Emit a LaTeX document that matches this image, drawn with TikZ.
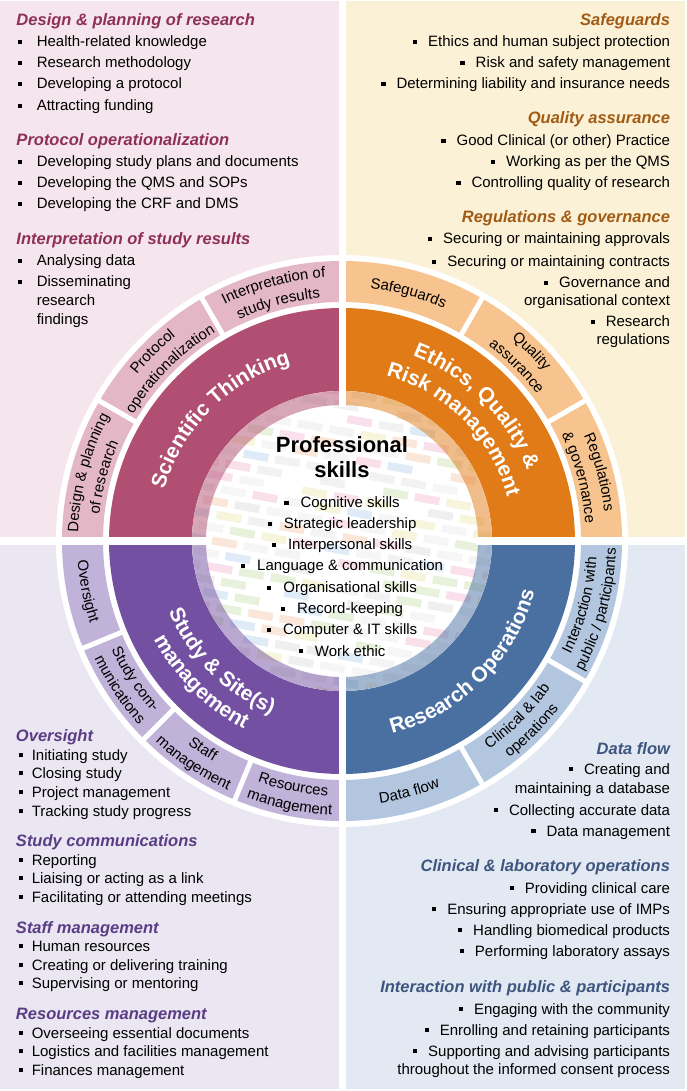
\documentclass[tikz,border=0pt]{standalone}
\usepackage{fontspec}
\setmainfont{Liberation Sans}
\usetikzlibrary{decorations.text}

\definecolor{tlbg}{HTML}{F4E6EC}
\definecolor{tlseg}{HTML}{E4B7C7}
\definecolor{tlband}{HTML}{B04F71}
\definecolor{tlhd}{HTML}{8E2F59}
\definecolor{trbg}{HTML}{FBF1D7}
\definecolor{trseg}{HTML}{F7C38E}
\definecolor{trband}{HTML}{E07B17}
\definecolor{trhd}{HTML}{A25B14}
\definecolor{blbg}{HTML}{EAE6F2}
\definecolor{blseg}{HTML}{C0B2D8}
\definecolor{blband}{HTML}{7350A1}
\definecolor{blhd}{HTML}{5A3D84}
\definecolor{brbg}{HTML}{E3E9F2}
\definecolor{brseg}{HTML}{B3C6DF}
\definecolor{brband}{HTML}{4A70A2}
\definecolor{brhd}{HTML}{3D557F}
\definecolor{tile0}{HTML}{DADADA}
\definecolor{tile1}{HTML}{E2E2E2}
\definecolor{tile2}{HTML}{D4D4D4}
\definecolor{tile3}{HTML}{FFFFFF}
\definecolor{tile4}{HTML}{E8E8E8}
\definecolor{tile5}{HTML}{F3A9C4}
\definecolor{tile6}{HTML}{BFD99A}
\definecolor{tile7}{HTML}{A6C8E6}
\definecolor{tile8}{HTML}{F5BC95}
\definecolor{tile9}{HTML}{E9E39A}

\newcommand\sqb{\raisebox{2.6pt}{\rule{4.3pt}{4.3pt}}}
\newcommand\itf{\fontsize{15}{18}\selectfont}
\newcommand\hdf{\fontsize{16.5}{20}\selectfont\bfseries\itshape}
\newcommand\bandf{\fontsize{21}{25}\selectfont\bfseries}
\newcommand\segf{\fontsize{15}{18}\selectfont}
\newcommand\annsec[5]{\fill[#1] (#2:#4) arc[start angle=#2,end angle=#3,radius=#4] -- (#3:#5) arc[start angle=#3,end angle=#2,radius=#5] -- cycle;}
\newcommand\arctext[5]{\path[decorate,decoration={text along path,text align=center,text color=#5,text={#4}}] (#1:#3) arc[start angle=#1,end angle=#2,radius=#3];}

\tikzset{
  itL/.style={inner sep=0pt,outer sep=0pt,anchor=base west,font=\itf,text=black},
  itR/.style={inner sep=0pt,outer sep=0pt,anchor=base east,font=\itf,text=black},
  itC/.style={inner sep=0pt,outer sep=0pt,anchor=base,font=\itf,text=black},
  hdL/.style={inner sep=0pt,outer sep=0pt,anchor=base west,font=\hdf},
  hdR/.style={inner sep=0pt,outer sep=0pt,anchor=base east,font=\hdf},
}

\begin{document}
\begin{tikzpicture}[x=1pt,y=1pt]
\useasboundingbox (-342,-550) rectangle (344,541);
\fill[white] (-342,-550) rectangle (344,541);
% panels
\fill[tlbg] (-342,539.5) rectangle (-3.5,4);
\fill[trbg] (3.5,539.5) rectangle (342.5,4);
\fill[blbg] (-342,-4) rectangle (-3.5,-547.5);
\fill[brbg] (3.5,-4) rectangle (343,-547.5);
% white ring
\fill[white] (0,0) circle (286);
% outer segment ring
\annsec{tlseg}{180}{90}{280}{239}
\annsec{trseg}{90}{0}{280}{239}
\annsec{blseg}{180}{270}{280}{239}
\annsec{brseg}{270}{360}{280}{239}
% main bands
\annsec{tlband}{180}{90}{233}{150}
\annsec{trband}{90}{0}{233}{150}
\annsec{blband}{180}{270}{233}{150}
\annsec{brband}{270}{360}{233}{150}
% centre disc with faint tiles
\fill[white] (0,0) circle (150);
\begin{scope}
  \clip (0,0) circle (150);
  \pgfmathsetseed{42}
  \foreach \r in {-12,...,12}{
    \foreach \c in {-7,...,7}{
      \pgfmathrandominteger{\k}{0}{9}
      \pgfmathsetmacro{\xx}{\c*32+mod(abs(\r),2)*16}
      \fill[tile\k,opacity=0.35,rotate=-10] (\xx,\r*13) rectangle ++(25,8);
    }
  }
\end{scope}
% translucent inner ring
\annsec{tlband,opacity=0.5}{180}{90}{150}{136}
\annsec{trband,opacity=0.5}{90}{0}{150}{136}
\annsec{blband,opacity=0.5}{180}{270}{150}{136}
\annsec{brband,opacity=0.5}{270}{360}{150}{136}
% white cross gaps
\fill[white] (-3.5,134) rectangle (3.5,290);
\fill[white] (-3.5,-134) rectangle (3.5,-290);
\fill[white] (134,-4) rectangle (290,4);
\fill[white] (-134,-4) rectangle (-290,4);
% segment dividers
\foreach \a in {150,120,60,30,202.5,225,247.5,-30,-60}
  \draw[white,line width=5] (\a:236) -- (\a:284);

% band titles
\arctext{180}{90}{185}{|\bandf|Scientific Thinking}{white}
\arctext{90}{0}{198}{|\bandf|Ethics, Quality {\&}}{white}
\arctext{90}{0}{171}{|\bandf|Risk management}{white}
\arctext{180}{270}{187}{|\bandf|Study {\&} Site(s)}{white}
\arctext{180}{270}{212}{|\bandf|management}{white}
\arctext{270}{360}{199}{|\bandf|Research Operations}{white}

% segment labels, top (clockwise)
\arctext{180}{150}{264}{|\segf|Design {\&} planning}{black}
\arctext{180}{150}{244}{|\segf|of research}{black}
\arctext{150}{120}{264}{|\segf|Protocol}{black}
\arctext{150}{120}{244}{|\segf|operationalization}{black}
\arctext{120}{90}{264}{|\segf|Interpretation of}{black}
\arctext{120}{90}{244}{|\segf|study results}{black}
\arctext{90}{60}{254}{|\segf|Safeguards}{black}
\arctext{60}{30}{264}{|\segf|Quality}{black}
\arctext{60}{30}{244}{|\segf|assurance}{black}
\arctext{30}{0}{264}{|\segf|Regulations}{black}
\arctext{30}{0}{244}{|\segf|{\&} governance}{black}
% segment labels, bottom (counter-clockwise)
\arctext{180}{202.5}{265}{|\segf|Oversight}{black}
\arctext{202.5}{225}{255}{|\segf|Study com-}{black}
\arctext{202.5}{225}{274}{|\segf|munications}{black}
\arctext{225}{247.5}{255}{|\segf|Staff}{black}
\arctext{225}{247.5}{274}{|\segf|management}{black}
\arctext{247.5}{270}{255}{|\segf|Resources}{black}
\arctext{247.5}{270}{274}{|\segf|management}{black}
\arctext{270}{300}{265}{|\segf|Data flow}{black}
\arctext{300}{330}{255}{|\segf|Clinical {\&} lab}{black}
\arctext{300}{330}{274}{|\segf|operations}{black}
\arctext{330}{360}{255}{|\segf|Interaction with}{black}
\arctext{330}{360}{274}{|\segf|public / participants}{black}

% centre
\node[inner sep=0pt,anchor=base,font=\fontsize{22}{26}\selectfont\bfseries] (ps1) at (0,88) {Professional};
\node[inner sep=0pt,anchor=base,font=\fontsize{22}{26}\selectfont\bfseries] (ps2) at (0,63) {skills};
\node[itC] (c1) at (0,33) {\sqb\hspace{12pt}Cognitive skills};
\node[itC] (c2) at (0,12) {\sqb\hspace{12pt}Strategic leadership};
\node[itC] (c3) at (0,-9) {\sqb\hspace{12pt}Interpersonal skills};
\node[itC] (c4) at (0,-30) {\sqb\hspace{12pt}Language \& communication};
\node[itC] (c5) at (0,-52) {\sqb\hspace{12pt}Organisational skills};
\node[itC] (c6) at (0,-73) {\sqb\hspace{12pt}Record-keeping};
\node[itC] (c7) at (0,-94) {\sqb\hspace{12pt}Computer \& IT skills};
\node[itC] (c8) at (0,-115) {\sqb\hspace{12pt}Work ethic};

% top-left panel
\node[hdL,text=tlhd] (tlh1) at (-325.5,515) {Design \& planning of research};
\node[itL] (tl1) at (-324,494) {\sqb\hspace{14.5pt}Health-related knowledge};
\node[itL] (tl2) at (-324,473) {\sqb\hspace{14.5pt}Research methodology};
\node[itL] (tl3) at (-324,452) {\sqb\hspace{14.5pt}Developing a protocol};
\node[itL] (tl4) at (-324,430.5) {\sqb\hspace{14.5pt}Attracting funding};
\node[hdL,text=tlhd] (tlh2) at (-325.5,395) {Protocol operationalization};
\node[itL] (tl5) at (-324,374) {\sqb\hspace{14.5pt}Developing study plans and documents};
\node[itL] (tl6) at (-324,353) {\sqb\hspace{14.5pt}Developing the QMS and SOPs};
\node[itL] (tl7) at (-324,332) {\sqb\hspace{14.5pt}Developing the CRF and DMS};
\node[hdL,text=tlhd] (tlh3) at (-325.5,296) {Interpretation of study results};
\node[itL] (tl8) at (-324,275) {\sqb\hspace{14.5pt}Analysing data};
\node[itL] (tl9) at (-324,254) {\sqb\hspace{14.5pt}Disseminating};
\node[itL] (tl10) at (-305.2,235) {research};
\node[itL] (tl11) at (-305.2,216) {findings};

% top-right panel
\node[hdR,text=trhd] (trh1) at (328,515) {Safeguards};
\node[itR] (tr1) at (328,494) {\sqb\hspace{11pt}Ethics and human subject protection};
\node[itR] (tr2) at (328,473) {\sqb\hspace{11pt}Risk and safety management};
\node[itR] (tr3) at (328,452) {\sqb\hspace{11pt}Determining liability and insurance needs};
\node[hdR,text=trhd] (trh2) at (328,417) {Quality assurance};
\node[itR] (tr4) at (328,395) {\sqb\hspace{11pt}Good Clinical (or other) Practice};
\node[itR] (tr5) at (328,374) {\sqb\hspace{11pt}Working as per the QMS};
\node[itR] (tr6) at (328,353) {\sqb\hspace{11pt}Controlling quality of research};
\node[hdR,text=trhd] (trh3) at (328,318) {Regulations \& governance};
\node[itR] (tr7) at (328,297) {\sqb\hspace{11pt}Securing or maintaining approvals};
\node[itR] (tr8) at (328,274) {\sqb\hspace{11pt}Securing or maintaining contracts};
\node[itR] (tr9) at (328,253) {\sqb\hspace{11pt}Governance and};
\node[itR] (tr10) at (328,235) {organisational context};
\node[itR] (tr11) at (328,214) {\sqb\hspace{11pt}Research};
\node[itR] (tr12) at (328,196) {regulations};

% bottom-left panel
\node[hdL,text=blhd] (blh1) at (-326,-200) {Oversight};
\node[itL] (bl1) at (-323,-219) {\sqb\hspace{8.5pt}Initiating study};
\node[itL] (bl2) at (-323,-237) {\sqb\hspace{8.5pt}Closing study};
\node[itL] (bl3) at (-323,-256) {\sqb\hspace{8.5pt}Project management};
\node[itL] (bl4) at (-323,-275) {\sqb\hspace{8.5pt}Tracking study progress};
\node[hdL,text=blhd] (blh2) at (-326,-305) {Study communications};
\node[itL] (bl5) at (-323,-324) {\sqb\hspace{8.5pt}Reporting};
\node[itL] (bl6) at (-323,-342) {\sqb\hspace{8.5pt}Liaising or acting as a link};
\node[itL] (bl7) at (-323,-361) {\sqb\hspace{8.5pt}Facilitating or attending meetings};
\node[hdL,text=blhd] (blh3) at (-326,-392) {Staff management};
\node[itL] (bl8) at (-323,-410) {\sqb\hspace{8.5pt}Human resources};
\node[itL] (bl9) at (-323,-429) {\sqb\hspace{8.5pt}Creating or delivering training};
\node[itL] (bl10) at (-323,-447) {\sqb\hspace{8.5pt}Supervising or mentoring};
\node[hdL,text=blhd] (blh4) at (-326,-478) {Resources management};
\node[itL] (bl11) at (-323,-497) {\sqb\hspace{8.5pt}Overseeing essential documents};
\node[itL] (bl12) at (-323,-515) {\sqb\hspace{8.5pt}Logistics and facilities management};
\node[itL] (bl13) at (-323,-534) {\sqb\hspace{8.5pt}Finances management};

% bottom-right panel
\node[hdR,text=brhd] (brh1) at (328,-213) {Data flow};
\node[itR] (br1) at (328,-233) {\sqb\hspace{11pt}Creating and};
\node[itR] (br2) at (328,-252) {maintaining a database};
\node[itR] (br3) at (328,-274) {\sqb\hspace{11pt}Collecting accurate data};
\node[itR] (br4) at (328,-295) {\sqb\hspace{11pt}Data management};
\node[hdR,text=brhd] (brh2) at (328,-330) {Clinical \& laboratory operations};
\node[itR] (br5) at (328,-352) {\sqb\hspace{11pt}Providing clinical care};
\node[itR] (br6) at (328,-373) {\sqb\hspace{11pt}Ensuring appropriate use of IMPs};
\node[itR] (br7) at (328,-394) {\sqb\hspace{11pt}Handling biomedical products};
\node[itR] (br8) at (328,-415) {\sqb\hspace{11pt}Performing laboratory assays};
\node[hdR,text=brhd] (brh3) at (328,-451) {Interaction with public \& participants};
\node[itR] (br9) at (328,-473) {\sqb\hspace{11pt}Engaging with the community};
\node[itR] (br10) at (328,-494) {\sqb\hspace{11pt}Enrolling and retaining participants};
\node[itR] (br11) at (328,-515) {\sqb\hspace{11pt}Supporting and advising participants};
\node[itR] (br12) at (328,-533) {throughout the informed consent process};
\end{tikzpicture}
\end{document}
